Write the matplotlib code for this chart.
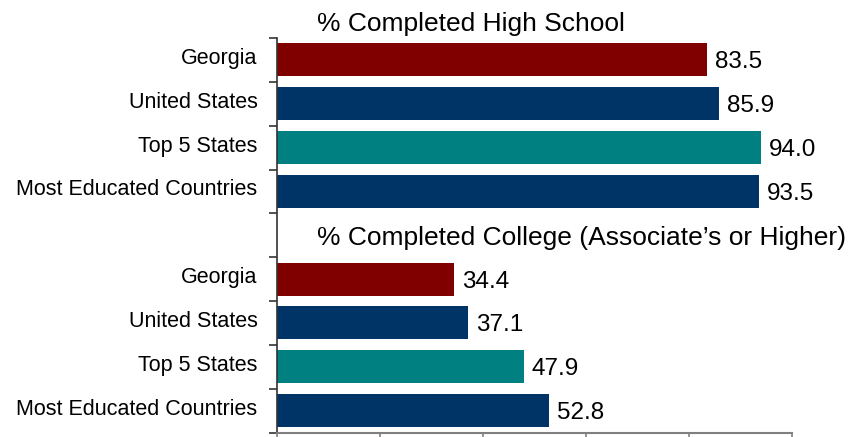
import matplotlib
matplotlib.use("Agg")
import matplotlib.pyplot as plt
import matplotlib.transforms as mtransforms

plt.rcParams['font.family'] = ['Liberation Sans', 'DejaVu Sans']

categories = ["Georgia", "United States", "Top 5 States", "Most Educated Countries"]
high_school = [83.5, 85.9, 94.0, 93.5]
college = [34.4, 37.1, 47.9, 52.8]
bar_colors = ["#800000", "#003366", "#008080", "#003366"]
titles = ["% Completed High School", "% Completed College (Associate\u2019s or Higher)"]
x_ticks = [0, 20, 40, 60, 80, 100]

fig = plt.figure(figsize=(8.48, 4.37), dpi=100)
ax = fig.add_axes([277/848, 1-432.5/437, (792-277)/848, (432.5-38)/437])

hs_pos = [0, 1, 2, 3]
col_pos = [5, 6, 7, 8]

ax.barh(hs_pos, high_school, height=0.75, color=bar_colors)
ax.barh(col_pos, college, height=0.75, color=bar_colors)

offset = mtransforms.offset_copy(ax.transData, fig=fig, x=8, y=0, units='dots')
for p, v in zip(hs_pos + col_pos, high_school + college):
    ax.text(v, p, f"{v:.1f}", transform=offset, ha='left', va='center_baseline',
            fontsize=17.5, color='black', clip_on=False)

ax.text(7.8, -0.67, titles[0], ha='left', va='baseline', fontsize=19, clip_on=False)
ax.text(7.8, 4.22, titles[1], ha='left', va='baseline', fontsize=19, clip_on=False)

ax.set_xlim(0, 100)
ax.set_ylim(8.5, -0.5)

ax.set_yticks(hs_pos + col_pos)
ax.set_yticklabels(categories + categories, fontsize=15.5)
ax.set_yticks([i - 0.5 for i in range(10)], minor=True)
ax.tick_params(axis='y', which='major', length=0, pad=14)
ax.tick_params(axis='y', which='minor', length=6, width=1.2, color='#333333', direction='out')
shift = mtransforms.ScaledTranslation(0, 4/100, fig.dpi_scale_trans)
for lbl in ax.get_yticklabels():
    lbl.set_transform(lbl.get_transform() + shift)

ax.set_xticks(x_ticks)
ax.set_xticklabels([])
ax.tick_params(axis='x', length=4, width=1.2, color='#808080', direction='out')

for s in ['top', 'right']:
    ax.spines[s].set_visible(False)
ax.spines['left'].set_color('#333333')
ax.spines['left'].set_linewidth(1.2)
ax.spines['bottom'].set_color('#808080')
ax.spines['bottom'].set_linewidth(1.5)

fig.savefig("out.png", dpi=100)
